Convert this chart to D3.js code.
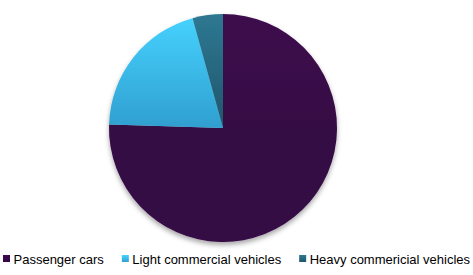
<!DOCTYPE html>
<html lang="en">
<head>
    <meta charset="UTF-8">
    <title>Vehicle share pie</title>
    <script src="https://d3js.org/d3.v7.min.js"></script>
    <style>
        body { margin: 0; background: #ffffff; }
        .legend text { font-family: Arial, 'Liberation Sans', sans-serif; font-size: 13px; fill: #000; }
    </style>
</head>
<body>
    <div id="chart"></div>
    <script>
        // Data (label typo kept as in the original)
        const categories = ["Passenger cars", "Light commercial vehicles", "Heavy commericial vehicles"];
        const shares = [75.5, 20.2, 4.3];
        const topColors = ["#3d0a4d", "#47d3ff", "#2e7892"];
        const bottomColors = ["#360744", "#2f9fd0", "#1f566c"];

        const W = 473, H = 275;
        const cx = 223, cy = 128, r = 114;

        const svg = d3.select("#chart").append("svg")
            .attr("width", W)
            .attr("height", H);

        const defs = svg.append("defs");

        // soft shadow under the pie
        const shadow = defs.append("filter")
            .attr("id", "shadow")
            .attr("x", "-10%").attr("y", "-10%")
            .attr("width", "120%").attr("height", "125%");
        shadow.append("feDropShadow")
            .attr("dx", 0).attr("dy", 3)
            .attr("stdDeviation", 2.5)
            .attr("flood-color", "#000")
            .attr("flood-opacity", 0.35);

        // vertical gradients for slices and legend swatches
        categories.forEach((c, i) => {
            const g = defs.append("linearGradient")
                .attr("id", "grad" + i)
                .attr("gradientUnits", "userSpaceOnUse")
                .attr("x1", 0).attr("y1", -r)
                .attr("x2", 0).attr("y2", 0);
            g.append("stop").attr("offset", "0%").attr("stop-color", topColors[i]);
            g.append("stop").attr("offset", "100%").attr("stop-color", bottomColors[i]);

            const lg = defs.append("linearGradient")
                .attr("id", "leg" + i)
                .attr("x1", 0).attr("y1", 0).attr("x2", 0).attr("y2", 1);
            lg.append("stop").attr("offset", "0%").attr("stop-color", topColors[i]);
            lg.append("stop").attr("offset", "100%").attr("stop-color", bottomColors[i]);
        });

        const pie = d3.pie().sort(null).value(d => d.value);
        const arcs = pie(categories.map((c, i) => ({ name: c, value: shares[i], i })));
        const arc = d3.arc().innerRadius(0).outerRadius(r);

        const g = svg.append("g")
            .attr("transform", `translate(${cx},${cy})`)
            .attr("filter", "url(#shadow)");

        g.selectAll("path")
            .data(arcs)
            .join("path")
            .attr("d", arc)
            .attr("fill", d => `url(#grad${d.data.i})`);

        // Legend
        const legend = svg.append("g").attr("class", "legend");
        let x = 3;
        categories.forEach((c, i) => {
            const item = legend.append("g").attr("transform", `translate(${x},0)`);
            item.append("rect")
                .attr("x", 0).attr("y", 255)
                .attr("width", 7).attr("height", 7)
                .attr("fill", `url(#leg${i})`);
            const t = item.append("text")
                .attr("x", 10.5).attr("y", 264)
                .text(c);
            x += 10.5 + t.node().getComputedTextLength() + 18;
        });
    </script>
</body>
</html>
